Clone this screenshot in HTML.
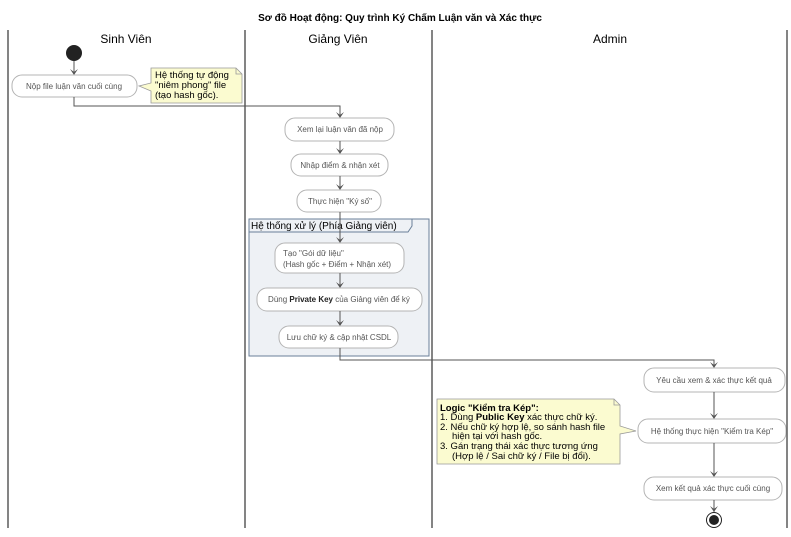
<!DOCTYPE html>
<html><head><meta charset="utf-8"><style>
html,body{margin:0;padding:0;background:#fff;}
svg{display:block;font-family:"Liberation Sans",sans-serif;}
.b{fill:#fff;stroke:#b4b4b4;stroke-width:1;}
.t{font-size:8px;fill:#555;}
.a{stroke:#555;stroke-width:1;fill:none;}
.h{fill:#555;}
.n{font-size:9.5px;fill:#000;}
</style></head><body>
<svg width="791" height="537" viewBox="0 0 791 537">
<text x="400" y="21" text-anchor="middle" font-size="10" font-weight="bold">Sơ đồ Hoạt động: Quy trình Ký Chấm Luận văn và Xác thực</text>
<g stroke="#333" stroke-width="1.2">
<line x1="8" y1="30" x2="8" y2="528"/><line x1="245" y1="30" x2="245" y2="528"/>
<line x1="432" y1="30" x2="432" y2="528"/><line x1="787" y1="30" x2="787" y2="528"/>
</g>
<text x="126" y="43" text-anchor="middle" font-size="12">Sinh Viên</text>
<text x="338" y="43" text-anchor="middle" font-size="12">Giảng Viên</text>
<text x="610" y="43" text-anchor="middle" font-size="12">Admin</text>
<circle cx="74" cy="53" r="8" fill="#222"/>
<path class="a" d="M74 61V75"/><path class="h" d="M70 69L74 75L78 69L74 72Z"/>
<rect class="b" x="12" y="75" width="125" height="22" rx="10"/>
<text class="t" x="74" y="89" text-anchor="middle">Nộp file luận văn cuối cùng</text>
<path d="M151 68H236L242 74V103H151V91L139 86L151 83Z" fill="#fbfbd0" stroke="#999" stroke-width="0.8"/>
<path d="M236 68V74H242" fill="none" stroke="#999" stroke-width="0.8"/>
<text class="n" x="155" y="78">Hệ thống tự động</text>
<text class="n" x="155" y="88">"niêm phong" file</text>
<text class="n" x="155" y="98">(tạo hash gốc).</text>
<path class="a" d="M74 97V106H340V118"/><path class="h" d="M336 112L340 118L344 112L340 115Z"/>
<rect class="b" x="285" y="118" width="109" height="23" rx="10"/>
<text class="t" x="340" y="132" text-anchor="middle">Xem lại luận văn đã nộp</text>
<path class="a" d="M340 141V154"/><path class="h" d="M336 148L340 154L344 148L340 151Z"/>
<rect class="b" x="291" y="154" width="97" height="22" rx="10"/>
<text class="t" x="340" y="168" text-anchor="middle">Nhập điểm &amp; nhận xét</text>
<path class="a" d="M340 176V190"/><path class="h" d="M336 184L340 190L344 184L340 187Z"/>
<rect class="b" x="297" y="190" width="84" height="22" rx="10"/>
<text class="t" x="340" y="204" text-anchor="middle">Thực hiện "Ký số"</text>
<rect x="249" y="219" width="180" height="137" fill="#eef1f5" stroke="#6a7f99" stroke-width="1"/>
<path d="M249 232H408L412 226V219" fill="none" stroke="#6a7f99" stroke-width="1"/>
<text x="251" y="229" font-size="10">Hệ thống xử lý (Phía Giảng viên)</text>
<path class="a" d="M340 212V243"/><path class="h" d="M336 237L340 243L344 237L340 240Z"/>
<rect class="b" x="275" y="243" width="129" height="30" rx="10"/>
<text class="t" x="283" y="256">Tạo "Gói dữ liệu"</text>
<text class="t" x="283" y="267">(Hash gốc + Điểm + Nhận xét)</text>
<path class="a" d="M340 273V288"/><path class="h" d="M336 282L340 288L344 282L340 285Z"/>
<rect class="b" x="257" y="288" width="165" height="23" rx="10"/>
<text class="t" x="339" y="302" text-anchor="middle">Dùng <tspan font-weight="bold" fill="#222">Private Key</tspan> của Giảng viên để ký</text>
<path class="a" d="M340 311V326"/><path class="h" d="M336 320L340 326L344 320L340 323Z"/>
<rect class="b" x="279" y="326" width="119" height="22" rx="10"/>
<text class="t" x="339" y="340" text-anchor="middle">Lưu chữ ký &amp; cập nhật CSDL</text>
<path class="a" d="M340 348V360H714V368"/><path class="h" d="M710 362L714 368L718 362L714 365Z"/>
<rect class="b" x="644" y="368" width="141" height="24" rx="10"/>
<text class="t" x="714" y="383" text-anchor="middle">Yêu cầu xem &amp; xác thực kết quả</text>
<path class="a" d="M714 392V419"/><path class="h" d="M710 413L714 419L718 413L714 416Z"/>
<rect class="b" x="638" y="419" width="148" height="24" rx="10"/>
<text class="t" x="712" y="434" text-anchor="middle">Hệ thống thực hiện "Kiểm tra Kép"</text>
<path d="M437 399H614L620 405V426L636 431L620 434V464H437Z" fill="#fbfbd0" stroke="#999" stroke-width="0.8"/>
<path d="M614 399V405H620" fill="none" stroke="#999" stroke-width="0.8"/>
<text class="n" x="440" y="411" font-weight="bold">Logic "Kiểm tra Kép":</text>
<text class="n" x="440" y="420">1. Dùng <tspan font-weight="bold">Public Key</tspan> xác thực chữ ký.</text>
<text class="n" x="440" y="430">2. Nếu chữ ký hợp lệ, so sánh hash file</text>
<text class="n" x="452" y="439">hiện tại với hash gốc.</text>
<text class="n" x="440" y="449">3. Gán trạng thái xác thực tương ứng</text>
<text class="n" x="452" y="459">(Hợp lệ / Sai chữ ký / File bị đổi).</text>
<path class="a" d="M714 443V477"/><path class="h" d="M710 471L714 477L718 471L714 474Z"/>
<rect class="b" x="644" y="477" width="138" height="23" rx="10"/>
<text class="t" x="713" y="491" text-anchor="middle">Xem kết quả xác thực cuối cùng</text>
<path class="a" d="M714 500V512"/><path class="h" d="M710 506L714 512L718 506L714 509Z"/>
<circle cx="714" cy="520" r="7.5" fill="#fff" stroke="#222" stroke-width="1"/>
<circle cx="714" cy="520" r="5" fill="#222"/>
</svg>
</body></html>
